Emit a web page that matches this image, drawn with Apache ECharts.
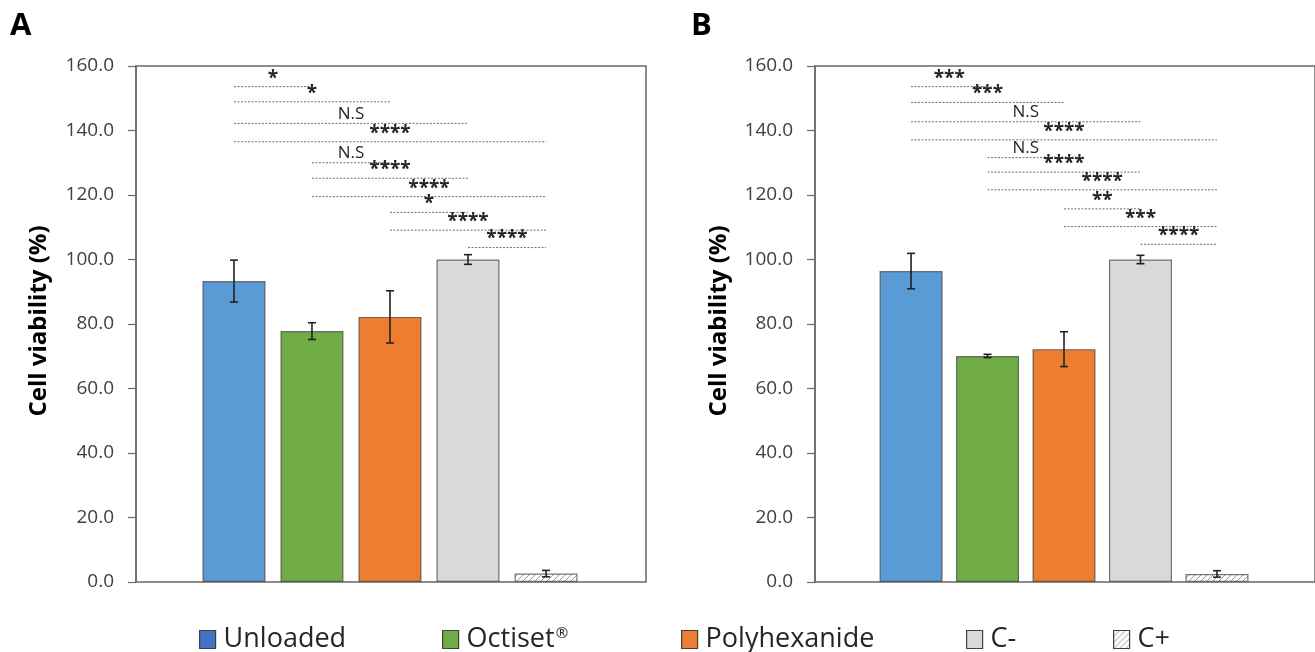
<!DOCTYPE html>
<html>
<head>
<meta charset="utf-8">
<script src="https://cdn.jsdelivr.net/npm/echarts@6/dist/echarts.min.js"></script>
<style>
  html, body { margin: 0; padding: 0; background: #ffffff; }
  #chart { width: 1315px; height: 652px; }
</style>
</head>
<body>
<div id="chart"></div>
<script>
// Groups and cell viability (%) for the two panels: mean and error (SD)
const groups = ['Unloaded', 'Octiset\u00AE', 'Polyhexanide', 'C-', 'C+'];
const meanA = [93.3, 77.8, 82.2, 100.0, 2.6];
const errA  = [6.5, 2.6, 8.1, 1.5, 1.0];
const meanB = [96.4, 70.1, 72.2, 100.0, 2.5];
const errB  = [5.5, 0.5, 5.4, 1.3, 1.0];

// Pairwise comparisons (group index pairs), bracket heights and significance labels
const pairs = [[0, 1], [0, 2], [0, 3], [0, 4], [1, 2], [1, 3], [1, 4], [2, 3], [2, 4], [3, 4]];
const sigHeightA = [153.6, 148.9, 142.2, 136.5, 130.0, 125.2, 119.5, 114.6, 109.1, 103.7];
const sigLabelA  = ['*', '*', 'N.S', '****', 'N.S', '****', '****', '*', '****', '****'];
const sigHeightB = [153.6, 148.7, 142.7, 137.1, 131.6, 127.1, 121.6, 115.7, 110.2, 104.7];
const sigLabelB  = ['***', '***', 'N.S', '****', 'N.S', '****', '****', '**', '***', '****'];

const yTicks = { min: 0, max: 160, interval: 20 };

// Diagonal hatch used for the C+ bars
function hatchPattern() {
  const c = document.createElement('canvas');
  c.width = 6; c.height = 6;
  const g = c.getContext('2d');
  g.fillStyle = '#ffffff';
  g.fillRect(0, 0, 6, 6);
  g.strokeStyle = '#9a9a9a';
  g.lineWidth = 1;
  g.beginPath();
  g.moveTo(-1, 7); g.lineTo(7, -1);
  g.moveTo(-4, 4); g.lineTo(4, -4);
  g.moveTo(2, 10); g.lineTo(10, 2);
  g.stroke();
  return { image: c, repeat: 'repeat' };
}

const FONT = "'Open Sans', 'Liberation Sans', sans-serif";
const fills = ['#5B9BD5', '#70AD47', '#ED7D31', '#D9D9D9', hatchPattern()];
const legendFills = ['#4472C4', '#70AD47', '#ED7D31', '#D9D9D9', hatchPattern()];
const barBorder = 'rgba(70,70,70,0.75)';
const axisColor = '#686868';

function barSeries(panel, means) {
  return groups.map((name, i) => ({
    name: name,
    type: 'bar',
    xAxisIndex: panel,
    yAxisIndex: panel,
    barWidth: 63,
    barGap: '-100%',
    itemStyle: { color: fills[i], borderColor: barBorder, borderWidth: 1.2 },
    data: [[i, means[i]]],
    z: 2
  }));
}

function errorSeries(panel, means, errs) {
  return {
    type: 'custom',
    xAxisIndex: panel,
    yAxisIndex: panel,
    data: means.map((m, i) => [i, m - errs[i], m + errs[i]]),
    renderItem: function (params, api) {
      const lo = api.coord([api.value(0), api.value(1)]);
      const hi = api.coord([api.value(0), api.value(2)]);
      const w = 4;
      const st = { stroke: '#222222', lineWidth: 1.6 };
      return {
        type: 'group',
        children: [
          { type: 'line', shape: { x1: lo[0], y1: lo[1], x2: hi[0], y2: hi[1] }, style: st },
          { type: 'line', shape: { x1: lo[0] - w, y1: lo[1], x2: lo[0] + w, y2: lo[1] }, style: st },
          { type: 'line', shape: { x1: hi[0] - w, y1: hi[1], x2: hi[0] + w, y2: hi[1] }, style: st }
        ]
      };
    },
    z: 5,
    silent: true
  };
}

function sigSeries(panel, heights, labels) {
  return {
    type: 'custom',
    xAxisIndex: panel,
    yAxisIndex: panel,
    data: pairs.map((p, k) => [p[0], p[1], heights[k]]),
    renderItem: function (params, api) {
      const a = api.coord([api.value(0), api.value(2)]);
      const b = api.coord([api.value(1), api.value(2)]);
      const label = labels[params.dataIndex];
      const isStar = label.indexOf('*') >= 0;
      return {
        type: 'group',
        children: [
          {
            type: 'line',
            shape: { x1: a[0], y1: a[1], x2: b[0], y2: b[1] },
            style: { stroke: '#6e6e6e', lineWidth: 1, lineDash: [2, 1.5] }
          },
          {
            type: 'text',
            x: (a[0] + b[0]) / 2,
            y: isStar ? a[1] + 1 : a[1] - 1,
            style: {
              text: label,
              fontFamily: FONT,
              fontSize: isStar ? 19 : 17,
              fontWeight: isStar ? 'bold' : 'normal',
              fill: '#262626',
              align: 'center',
              verticalAlign: 'bottom'
            }
          }
        ]
      };
    },
    z: 6,
    silent: true
  };
}

const gridTop = 66, gridHeight = 516, gridWidth = 510;
const xRange = { min: -1.256, max: 5.282 };

function xAxisFor(panel) {
  return {
    type: 'value', gridIndex: panel, min: xRange.min, max: xRange.max,
    axisLine: { show: false, onZero: false }, axisTick: { show: false },
    axisLabel: { show: false }, splitLine: { show: false }
  };
}
function yAxisFor(panel) {
  return {
    type: 'value', gridIndex: panel,
    min: yTicks.min, max: yTicks.max, interval: yTicks.interval,
    axisLine: { show: true, onZero: false, lineStyle: { color: axisColor, width: 1.5 } },
    axisTick: { show: true, length: 8, lineStyle: { color: axisColor, width: 1.2 } },
    axisLabel: {
      margin: 22, fontFamily: FONT, fontSize: 19, color: '#404040',
      formatter: v => v.toFixed(1)
    },
    splitLine: { show: false }
  };
}

const legendLeft = [199, 442, 681, 966, 1113];
const legends = groups.map((name, i) => ({
  left: legendLeft[i],
  top: 626,
  padding: 0,
  itemWidth: 16,
  itemHeight: 18,
  itemGap: 0,
  icon: 'rect',
  selectedMode: false,
  formatter: function (n) {
    return n.indexOf('\u00AE') >= 0 ? '{t|' + n.replace('\u00AE', '') + '}{s|\u00AE}' : '{t|' + n + '}';
  },
  textStyle: {
    fontFamily: FONT, fontSize: 27, color: '#262626', padding: [0, 0, 0, 3],
    rich: {
      t: { fontFamily: FONT, fontSize: 27, color: '#262626' },
      s: { fontFamily: FONT, fontSize: 15, color: '#262626', verticalAlign: 'top', padding: [0, 0, 12, 1] }
    }
  },
  data: [{ name: name, itemStyle: { color: legendFills[i], borderColor: '#404040', borderWidth: 1.2 } }]
}));

const chart = echarts.init(document.getElementById('chart'), null, { renderer: 'canvas' });
chart.setOption({
  animation: false,
  backgroundColor: '#ffffff',
  grid: [
    { left: 136, top: gridTop, width: gridWidth, height: gridHeight, show: true,
      borderColor: axisColor, borderWidth: 1.5, backgroundColor: 'transparent' },
    { left: 815, top: gridTop, width: gridWidth, height: gridHeight, show: true,
      borderColor: axisColor, borderWidth: 1.5, backgroundColor: 'transparent' }
  ],
  xAxis: [xAxisFor(0), xAxisFor(1)],
  yAxis: [yAxisFor(0), yAxisFor(1)],
  legend: legends,
  graphic: [
    { type: 'text', left: 10, top: 11, style: { text: 'A', fontFamily: FONT, fontSize: 31, fontWeight: 'bold', fill: '#000000' } },
    { type: 'text', left: 691, top: 11, style: { text: 'B', fontFamily: FONT, fontSize: 31, fontWeight: 'bold', fill: '#000000' } },
    { type: 'text', x: 39, y: 321, rotation: Math.PI / 2,
      style: { text: 'Cell viability (%)', fontFamily: FONT, fontSize: 24, fontWeight: 'bold', fill: '#000000', align: 'center', verticalAlign: 'middle' } },
    { type: 'text', x: 719, y: 321, rotation: Math.PI / 2,
      style: { text: 'Cell viability (%)', fontFamily: FONT, fontSize: 24, fontWeight: 'bold', fill: '#000000', align: 'center', verticalAlign: 'middle' } }
  ],
  series: [].concat(
    barSeries(0, meanA), [errorSeries(0, meanA, errA), sigSeries(0, sigHeightA, sigLabelA)],
    barSeries(1, meanB), [errorSeries(1, meanB, errB), sigSeries(1, sigHeightB, sigLabelB)]
  )
});
</script>
</body>
</html>
